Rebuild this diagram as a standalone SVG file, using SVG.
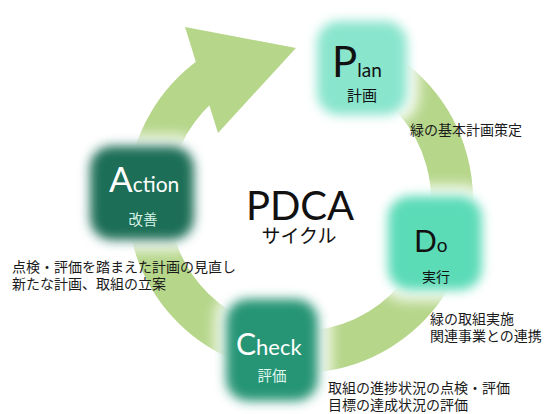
<svg xmlns="http://www.w3.org/2000/svg" width="547" height="414" viewBox="0 0 547 414">
<style>
.ring{fill:none;stroke:#b6d68a;stroke-width:42}
.head{fill:#b6d68a}
.halo{fill:#ffffff;filter:url(#blurH)}
.box{filter:url(#blurB)}
.lat{font-family:Lato,"Noto Sans","Liberation Sans",sans-serif}
.jp{font-family:"Noto Sans CJK JP","Noto Sans",sans-serif}
.lbl{font-family:"Noto Sans CJK JP","Noto Sans",sans-serif;font-size:14px;fill:#1a1a1a}
</style>
<defs>
<filter id="blurB" x="-30%" y="-30%" width="160%" height="160%"><feGaussianBlur stdDeviation="5.5"/></filter>
<filter id="blurH" x="-40%" y="-40%" width="180%" height="180%"><feGaussianBlur stdDeviation="7"/></filter>
</defs>
<rect width="547" height="414" fill="#ffffff"/>
<g id="connectors">
<path class="ring" d="M 364.2 62.2 A 152 152 0 1 1 210.7 77.0"/>
<polygon class="head" points="185,27 296,48 218,133"/>
</g>
<g id="center">
<text text-anchor="middle" fill="#111"><tspan class="lat" x="300" y="220" font-size="40">PDCA</tspan><tspan class="jp" x="299" y="243" font-size="19">サイクル</tspan></text>
</g>
<g id="plan">
<rect class="halo" x="306" y="12" width="112" height="112" rx="28"/>
<rect class="box" x="317" y="21" width="90" height="94" rx="22" fill="#8ae5cd"/>
<text class="lat" x="332" y="77" fill="#111"><tspan font-size="42">P</tspan><tspan font-size="19">lan</tspan></text>
<text class="jp" x="362" y="101" font-size="15" text-anchor="middle" fill="#111">計画</text>
</g>
<g id="do">
<rect class="halo" x="378" y="186" width="114" height="114" rx="28"/>
<rect class="box" x="388" y="196" width="94" height="94" rx="22" fill="#5cdbb7"/>
<text class="lat" x="414" y="252" fill="#111"><tspan font-size="30">D</tspan><tspan font-size="19">o</tspan></text>
<text class="jp" x="436" y="282" font-size="14" text-anchor="middle" fill="#111">実行</text>
</g>
<g id="check">
<rect class="halo" x="216" y="290" width="114" height="122" rx="28"/>
<rect class="box" x="226" y="299" width="92" height="102" rx="22" fill="#289575"/>
<text class="lat" x="236" y="355" fill="#ffffff"><tspan font-size="30">C</tspan><tspan font-size="22">heck</tspan></text>
<text class="jp" x="272" y="381" font-size="14.5" text-anchor="middle" fill="#dff7ee">評価</text>
</g>
<g id="action">
<rect class="halo" x="80" y="136" width="124" height="114" rx="28"/>
<rect class="box" x="90" y="146" width="104" height="94" rx="22" fill="#1b6e56"/>
<text class="lat" x="109" y="192" fill="#ffffff"><tspan font-size="35">A</tspan><tspan font-size="21">ction</tspan></text>
<text class="jp" x="143" y="225" font-size="14.5" text-anchor="middle" fill="#d6f3e6">改善</text>
</g>
<g id="labels">
<text class="lbl" x="410" y="135">緑の基本計画策定</text>
<text class="lbl"><tspan x="430" y="324">緑の取組実施</tspan><tspan x="430" y="341">関連事業との連携</tspan></text>
<text class="lbl"><tspan x="328" y="393">取組の進捗状況の点検・評価</tspan><tspan x="328" y="410">目標の達成状況の評価</tspan></text>
<text class="lbl"><tspan x="12" y="272">点検・評価を踏まえた計画の見直し</tspan><tspan x="12" y="289">新たな計画、取組の立案</tspan></text>
</g>
</svg>
